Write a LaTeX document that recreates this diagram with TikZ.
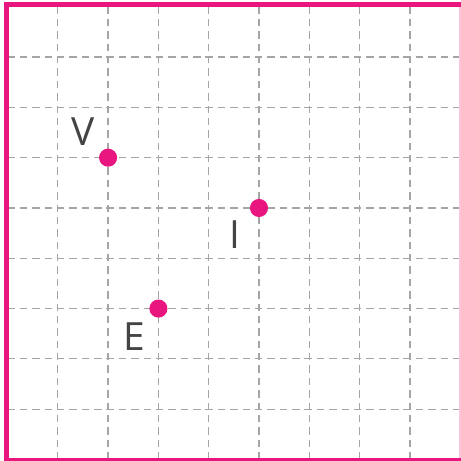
\documentclass[tikz,border=0pt]{standalone}
\usepackage{fontspec}
\setmainfont{Open Sans}
\usetikzlibrary{positioning}
\definecolor{dotcolor}{RGB}{233, 22, 127}
\definecolor{gridcolor}{RGB}{165, 165, 165}
\definecolor{labelcolor}{RGB}{68, 68, 68}
\tikzset{
	gridline/.style={draw=gridcolor, line width=0.7pt, dash pattern=on 4.2pt off 2.8pt},
	frame/.style={draw=dotcolor, line width=2.8pt},
	thinframe/.style={draw=dotcolor, line width=1.2pt},
	dot/.style={circle, fill=dotcolor, inner sep=0pt, minimum size=0.36cm},
	letter/.style={font=\fontsize{22}{26}\selectfont, text=labelcolor, inner sep=0pt}
}
\begin{document}
\begin{tikzpicture}[node distance = 0.5cm and 0.5cm, on grid]
	\useasboundingbox (-0.149,-0.03) rectangle (9.016,9.135);

	% Grid
	\foreach \k in {1,...,8} {
		\draw[gridline] (\k,0) -- (\k,9.03);
		\draw[gridline] (0,\k) -- (9.02,\k);
	}

	% Frame
	\draw[thinframe, draw=dotcolor!25, line width=0.8pt] (9.0,0) -- (9.0,9.03);
	\draw[thinframe] (-0.02,0.0) -- (9.02,0.0);
	\draw[frame] (-0.02,-0.03) -- (-0.02,9.04) -- (9.02,9.04);

	% Points
	\node (V) [dot] at (2,6) {};
	\node (I) [dot] at (5,5) {};
	\node (E) [dot] at (3,3) {};

	% Labels
	\node (Vl) [letter, above left = 0.52cm and 0.5cm of V] {V};
	\node (Il) [letter, below left = 0.52cm and 0.48cm of I] {I};
	\node (El) [letter, below left = 0.56cm and 0.48cm of E] {E};
\end{tikzpicture}
\end{document}
